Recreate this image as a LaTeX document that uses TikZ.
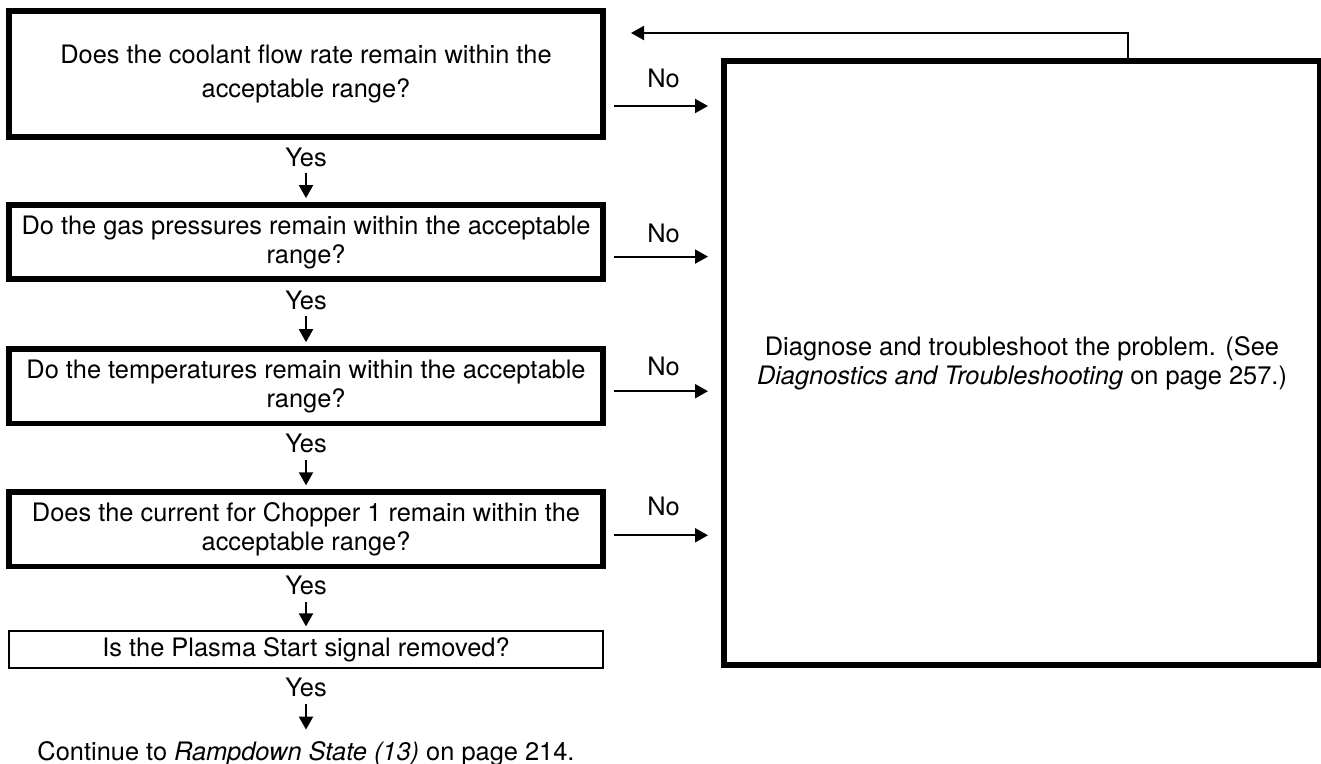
\documentclass[tikz,border=0pt]{standalone}
\usepackage{fontspec}
\setmainfont{TeX Gyre Heros}
\usetikzlibrary{arrows.meta,positioning}

\begin{document}
\begin{tikzpicture}[
  x=0.5pt, y=-0.5pt,
  font=\fontsize{12.7}{14.5}\selectfont,
  ask/.style={draw, line width=2.8pt, align=center, minimum width=297.2pt, minimum height=37.2pt, inner sep=2pt},
  plain/.style={draw, line width=1pt, align=center, minimum width=296.75pt, minimum height=18.5pt, inner sep=1pt},
  arrow/.style={-{Triangle[length=6.5pt,width=7pt]}, line width=1pt},
  note/.style={inner sep=0pt}
]
\useasboundingbox (0,0) rectangle (1321,764);

\node[ask, minimum height=63.2pt, font=\fontsize{12.7}{17}\selectfont] (coolant) at (306,74)
  {Does the coolant flow rate remain within the\\acceptable range?};
\node[note, below=3.85pt of coolant] (yes1) {Yes};
\node[ask, below=17.35pt of yes1] (gas) {Do the gas pressures remain within the acceptable\\range?};
\node[note, below=4.35pt of gas] (yes2) {Yes};
\node[ask, below=17.85pt of yes2] (temp) {Do the temperatures remain within the acceptable\\range?};
\node[note, below=3.85pt of temp] (yes3) {Yes};
\node[ask, below=17.85pt of yes3] (chopper) {Does the current for Chopper 1 remain within the\\acceptable range?};
\node[note, below=3.35pt of chopper] (yes4) {Yes};
\node[plain, below=17.35pt of yes4] (plasma) {Is the Plasma Start signal removed?};
\node[note, below=3.85pt of plasma] (yes5) {Yes};
\node[note, below=22.4pt of yes5] (next) {Continue to \textit{Rampdown State (13)} on page 214.};

\node[ask, minimum width=298.2pt, minimum height=302.2pt] (diagnose) at (1022,363)
  {Diagnose and troubleshoot the problem. (See\\\textit{Diagnostics and Troubleshooting} on page 257.)};

% yes branches
\foreach \a/\b in {yes1/gas, yes2/temp, yes3/chopper, yes4/plasma}
  \draw[arrow, shorten <=3pt, shorten >=2pt] (\a) -- (\b);
\draw[arrow, shorten <=3.85pt, shorten >=6pt] (yes5) -- (next);

% no branches
\foreach \b/\dy/\ly in {coolant/-16pt/14pt, gas/-7.25pt/11.5pt, temp/-2.5pt/12.5pt, chopper/-3pt/14.5pt}
  \draw[arrow, shorten <=4pt, shorten >=6.5pt] ([yshift=\dy]\b.east) -- ([yshift=\dy]\b.east -| diagnose.west)
    node[note, midway, yshift=\ly] {No};

% back to the first check
\coordinate (back) at ([xshift=12.5pt, yshift=-12.5pt]coolant.north east);
\draw[arrow] ([xshift=53pt]diagnose.north) |- (back);

\end{tikzpicture}
\end{document}
